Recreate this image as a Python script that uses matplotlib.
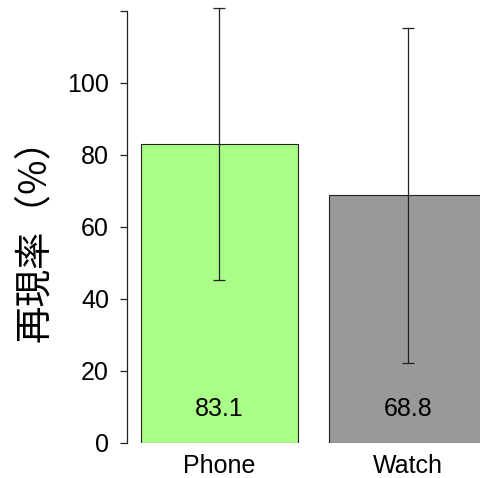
import matplotlib
matplotlib.use("Agg")
import matplotlib.pyplot as plt

# recall per device, mean and sd
devices = ["Phone", "Watch"]
recall_mean = [83.1, 68.8]
recall_sd = [37.7, 46.5]
bar_colors = ["#aaff88", "#999999"]
y_ticks = [0, 20, 40, 60, 80, 100, 120]
y_tick_labels = ["0", "20", "40", "60", "80", "100", ""]

W, H = 480, 478
fig = plt.figure(figsize=(W / 100, H / 100), dpi=100)

# plot region runs past the right edge, like the clipped R device
ax = fig.add_axes([127 / W, (H - 443) / H, 373 / W, 432 / H])

x_left = [0.2, 1.4]
x_mid = [x + 0.5 for x in x_left]
ax.bar(x_mid, recall_mean, width=1.0, color=bar_colors,
       edgecolor="#222222", linewidth=0.8, zorder=2)
eb = ax.errorbar(x_mid, recall_mean, yerr=recall_sd, fmt="none",
                 ecolor="#222222", elinewidth=0.9, capsize=4, capthick=0.9,
                 zorder=3)
for art in eb.lines[1] + eb.lines[2]:
    art.set_clip_on(False)

for xm, v in zip(x_mid, recall_mean):
    ax.text(xm, 9.5, f"{v:.1f}", ha="center", va="center",
            fontsize=18, family="Liberation Sans", zorder=4)

ax.set_xlim(0.112, 2.488)
ax.set_ylim(0, 120)
ax.set_yticks(y_ticks)
ax.set_yticklabels(y_tick_labels, fontsize=18, family="Liberation Sans")
ax.tick_params(axis="y", length=5, width=0.9, pad=8, colors="#222222",
               labelcolor="black")
ax.set_xticks(x_mid)
ax.set_xticklabels(devices, fontsize=18, family="Liberation Sans")
ax.tick_params(axis="x", length=0, pad=8)

for s in ["top", "right", "bottom"]:
    ax.spines[s].set_visible(False)
ax.spines["left"].set_color("#222222")
ax.spines["left"].set_linewidth(0.9)

fig.text(34 / W, (H - 231) / H, "再現率（%）", rotation=90,
         ha="center", va="center", fontsize=27,
         family=["Noto Sans CJK JP", "DejaVu Sans"])

fig.savefig("out.png", dpi=100)
